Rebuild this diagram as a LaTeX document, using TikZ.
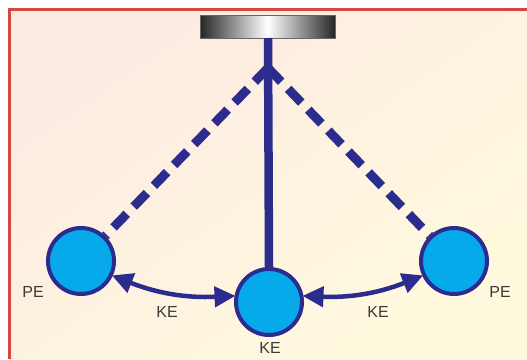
\documentclass[tikz,border=0pt]{standalone}
\usepackage{fontspec}
\setmainfont{Liberation Sans}
\usetikzlibrary{arrows.meta}
\definecolor{pblue}{HTML}{2B2C8E}
\definecolor{pcyan}{HTML}{06AAEA}
\definecolor{pred}{HTML}{D8463E}
\definecolor{ptext}{HTML}{3A3A3A}
\definecolor{bgtl}{RGB}{252,234,226}
\definecolor{bgmid}{RGB}{246,249,252}
\definecolor{bgbr}{RGB}{255,250,222}
\tikzset{
  bob/.style={circle, draw=pblue, fill=pcyan, line width=4pt, minimum size=66pt, inner sep=0pt},
  lbl/.style={text=ptext, font=\fontsize{16}{16}\selectfont, inner sep=0pt},
  dashline/.style={draw=pblue, line width=9pt, dash pattern=on 19pt off 10pt},
  rod/.style={draw=pblue, line width=8.5pt},
  swing/.style={draw=pblue, line width=4.5pt, {Triangle[length=21pt,width=20pt]}-{Triangle[length=21pt,width=20pt]}, shorten <=-1pt, shorten >=-1pt}
}
\begin{document}
\begin{tikzpicture}[x=1pt,y=-1pt]
\useasboundingbox (0,0) rectangle (527,359);
\clip (0,0) rectangle (527,359);
\fill[white] (0,0) rectangle (527,359);
\shade[shading=axis, left color=bgtl, middle color=bgmid, right color=bgbr, shading angle=35]
  (9,9) rectangle (527,359);
\fill[pred] (8,8) rectangle (11,359);
\fill[pred] (8,8) rectangle (527,11);
% support bar
\shade[left color=black!85, right color=black!85, middle color=white, draw=black!60, line width=0.4pt]
  (200,15) rectangle (335,38);
\coordinate (bar) at (268,38);
\coordinate (pivot) at (268,68);
% bobs
\node[bob] (L) at (81,261) {};
\node[bob] (M) at (269,302) {};
\node[bob] (R) at (454,261) {};
% strings
\draw[rod] (bar) -- (M.north);
\draw[dashline] (pivot) -- (L);
\draw[dashline] (pivot) -- (R);
% swing arrows
\draw[swing] (L.-25) to[bend right=12] (M.170);
\draw[swing] (M.10) to[bend right=12] (R.205);
% labels
\node[lbl] (pel) at (33,292) {PE};
\node[lbl] (per) at (500,292) {PE};
\node[lbl] (ke1) at (167,312) {KE};
\node[lbl] (ke2) at (378,312) {KE};
\node[lbl] (ke3) at (270,348) {KE};
\end{tikzpicture}
\end{document}
